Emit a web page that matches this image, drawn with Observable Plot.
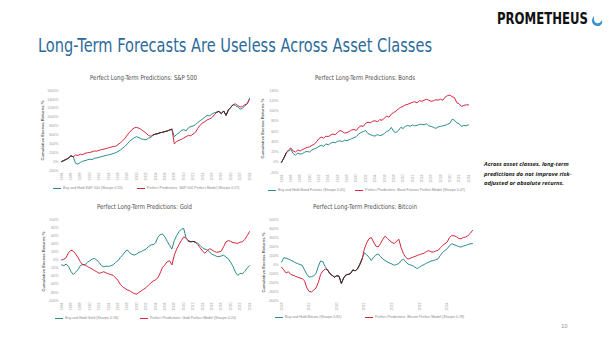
<!DOCTYPE html>
<html><head><meta charset="utf-8">
<script src="https://cdn.jsdelivr.net/npm/d3@7"></script>
<script src="https://cdn.jsdelivr.net/npm/@observablehq/plot@0.6"></script>
<style>
html,body{margin:0;padding:0;background:#fff}
body{width:612px;height:343px;position:relative;overflow:hidden;font-family:"DejaVu Sans",sans-serif}
.a{position:absolute;white-space:nowrap}
.ct{font-size:6.8px;color:#4d4d4d;line-height:8px;font-family:"DejaVu Sans",sans-serif}
.yt{font-size:4.2px;color:#666;font-weight:bold;text-align:center;width:80px;line-height:5px;transform:rotate(-90deg);font-family:"Liberation Sans",sans-serif}
.lg{font-size:3.6px;color:#888;line-height:5px;font-family:"Liberation Sans",sans-serif}
.sw{display:inline-block;width:8px;height:0;border-top:0.8px solid;vertical-align:middle;margin-right:2px}
</style></head><body>
<script>
// ---------- data ----------
const TEAL = "#2a8c8c", RED = "#d7263d", DARK = "#333333";

// S&P 500, half-year steps 1984.0 .. 2024.0
const spxRed = [0,25,50,80,130,110,150,140,165,160,
 185,200,205,220,240,235,255,270,280,295,
 310,325,340,345,380,420,470,520,600,660,
 720,760,770,750,720,680,640,590,570,600,
 620,630,650,660,675,690,710,730,400,450,
 480,500,530,560,590,580,620,660,750,820,
 870,900,940,960,990,1050,1110,1130,1080,1140,
 1040,1160,1220,1280,1300,1260,1230,1240,1280,1300,
 1400];
const spxTeal = [0,25,50,80,130,110,-40,-55,-20,10,
 20,40,55,45,75,80,100,110,125,140,
 150,165,180,200,225,260,300,340,400,460,
 500,540,560,540,510,500,490,530,540,600,
 620,630,650,660,675,690,710,730,560,610,
 650,700,720,690,760,790,800,830,880,920,
 960,1000,1040,1030,1070,1100,1110,1130,1080,1140,
 1040,1160,1220,1280,1260,1230,1180,1200,1250,1300,
 1420];
const spxYTicks = [-200,0,200,400,600,800,1000,1200,1400,1600];

// Bonds, half-year steps 1984.0 .. 2024.0
const bondRed = [0,8,18,24,28,22,20,24,22,25,
 27,29,30,33,35,40,46,49,47,51,
 50,53,55,54,58,62,60,57,58,60,
 63,64,62,68,71,70,76,78,77,80,
 81,79,83,82,86,90,88,94,97,100,
 104,107,109,112,113,115,117,118,116,120,
 119,121,123,121,119,120,122,121,123,121,
 127,130,131,128,126,116,114,109,111,112,
 112];
const bondTeal = [0,8,18,22,25,17,14,18,16,17,
 20,21,20,24,26,28,31,33,31,36,
 34,37,39,38,41,42,40,43,42,44,
 46,48,50,55,58,60,62,56,54,52,
 51,54,52,53,56,60,62,68,60,58,
 62,68,66,70,72,70,73,71,72,74,
 74,73,75,71,70,68,66,69,70,71,
 72,74,76,84,82,77,75,70,72,71,
 73];
const bondYTicks = [-20,0,20,40,60,80,100,120,140];

// Gold, half-year steps 1984.0 .. 2024.0
const goldRed = [0,2,6,18,24,22,15,6,-4,-12,
 -12,-16,-19,-22,-26,-29,-33,-31,-29,-32,
 -34,-36,-38,-44,-50,-60,-66,-70,-74,-76,
 -80,-83,-84,-80,-76,-72,-68,-62,-57,-52,
 -49,-44,-32,-18,-12,-4,-2,-12,12,27,
 38,48,57,54,47,45,46,44,38,30,
 22,17,22,28,25,21,19,20,22,33,
 45,48,46,43,42,41,44,45,51,60,
 70];
const goldTeal = [-12,-14,-10,-16,-28,-36,-30,-24,-14,-11,
 -12,-6,-2,2,4,0,-6,-14,-17,-15,
 -16,-14,-12,-6,-2,6,12,20,25,18,
 14,12,15,19,21,24,27,33,37,38,
 42,56,63,64,57,46,36,27,48,60,
 70,76,78,55,47,45,46,44,41,36,
 30,27,25,20,14,12,9,8,10,12,
 7,3,-6,-16,-30,-38,-33,-34,-28,-20,
 -14];
const goldYTicks = [-100,-80,-60,-40,-20,0,20,40,60,80,100];

// Bitcoin, monthly steps from 2018-01
const btcRed = [-30,-60,-95,-80,-110,-120,-130,-142,-150,-158,
 -180,-260,-300,-305,-285,-260,-200,-110,-70,-50,
 -60,-100,-120,-140,-125,-130,-210,-150,-115,-110,
 -100,-60,-70,-50,0,60,170,240,285,300,
 250,205,195,230,280,315,290,265,245,232,
 260,280,185,120,80,60,70,80,90,100,
 110,118,125,145,155,140,138,150,156,185,
 210,230,250,300,322,318,310,290,285,300,
 305,320,345,378];
const btcTeal = [26,75,70,60,48,35,20,10,0,-10,
 -60,-110,-140,-135,-125,-100,-20,40,30,-25,
 -60,-100,-120,-140,-125,-130,-210,-150,-115,-110,
 -100,-60,-70,-50,0,60,130,110,80,45,
 80,105,118,90,60,45,28,15,5,-8,
 0,10,45,60,30,5,-5,-12,-30,-45,
 -30,-12,0,15,26,38,44,52,63,100,
 135,155,175,210,230,220,211,200,193,205,
 211,222,230,232];
const btcYTicks = [-400,-300,-200,-100,0,100,200,300,400,500];

const longYears = [1984,1986,1988,1990,1992,1994,1996,1998,2000,2002,2004,2006,2008,2010,2012,2014,2016,2018,2020,2022,2024];
const btcYears = [2018,2019,2020,2021,2022,2023,2024];

const chartTitles = ["Perfect Long-Term Predictions: S&P 500","Perfect Long-Term Predictions: Bonds","Perfect Long-Term Predictions: Gold","Perfect Long-Term Predictions: Bitcoin"];
const legendA = ["Buy and Hold S&P 500 (Sharpe 0.55)","Buy and Hold Bond Futures (Sharpe 0.41)","Buy and Hold Gold (Sharpe 0.18)","Buy and Hold Bitcoin (Sharpe 0.81)"];
const legendB = ["Perfect Predictions: S&P 500 Perfect Model (Sharpe 0.57)","Perfect Predictions: Bond Futures Perfect Model (Sharpe 0.47)","Perfect Predictions: Gold Perfect Model (Sharpe 0.24)","Perfect Predictions: Bitcoin Perfect Model (Sharpe 0.78)"];
const yTitle = "Cumulative Excess Returns %";
const mainTitle = "Long-Term Forecasts Are Useless Across Asset Classes";
const sideNote = ["Across asset classes, long-term","predictions do not improve risk-","adjusted or absolute returns."];

// ---------- build ----------
function rowsOf(red, teal, start, step){
  const n = red.length;
  const eq = i => i>=0 && i<n && red[i]===teal[i];
  return red.map((r,i)=>({x:start+i*step, r, t:teal[i], o:(eq(i)&&(eq(i-1)||eq(i+1)))?r:NaN}));
}
function chart(cfg){
  const rows = rowsOf(cfg.red, cfg.teal, cfg.start, cfg.step);
  const svg = Plot.plot({
    width: cfg.w, height: cfg.h,
    marginLeft: cfg.ml, marginRight: cfg.mr, marginTop: cfg.mt, marginBottom: cfg.mb,
    style:{background:"transparent", fontFamily:"Liberation Sans, sans-serif", fontSize:"3.6px", color:"#9a9a9a", overflow:"visible"},
    x:{domain:cfg.xd, ticks:cfg.xt, tickFormat:d=>String(d), tickRotate:-90, tickSize:0, tickPadding:2, label:null},
    y:{domain:cfg.yd, ticks:cfg.yt, tickFormat:d=>d+"%", tickSize:0, tickPadding:3, label:null},
    marks:[
      Plot.line(rows,{x:"x", y:"t", stroke:TEAL, strokeWidth:1}),
      Plot.line(rows,{x:"x", y:"r", stroke:RED, strokeWidth:1}),
      Plot.line(rows,{x:"x", y:"o", stroke:DARK, strokeWidth:1})
    ]
  });
  svg.style.position="absolute"; svg.style.left=cfg.left+"px"; svg.style.top=cfg.top+"px";
  document.body.appendChild(svg);
}
function el(cls, html, css){
  const d=document.createElement("div"); d.className="a "+cls; d.innerHTML=html;
  Object.assign(d.style, css); document.body.appendChild(d); return d;
}
// squeeze a text box horizontally to a target width, anchored at x0
function fit(d, x0, target){
  d.style.display="inline-block";
  const w = d.getBoundingClientRect().width;
  d.style.left = x0+"px";
  d.style.transformOrigin = "0 0";
  d.style.transform = `scaleX(${target/w})`;
}
const esc = s => s.replace(/&/g,"&amp;");

chart({red:spxRed, teal:spxTeal, start:1984, step:0.5, xd:[1984,2024], xt:longYears, yd:[-200,1600], yt:spxYTicks,
  left:40, top:84, w:230, h:100, ml:21, mr:21, mt:6, mb:14});
chart({red:bondRed, teal:bondTeal, start:1984, step:0.5, xd:[1984,2024], xt:longYears, yd:[-20,140], yt:bondYTicks,
  left:250, top:84, w:230, h:100, ml:31, mr:12, mt:6, mb:12});
chart({red:goldRed, teal:goldTeal, start:1984, step:0.5, xd:[1984,2024], xt:longYears, yd:[-100,100], yt:goldYTicks,
  left:40, top:213, w:230, h:100, ml:21, mr:21, mt:6, mb:13});
chart({red:btcRed, teal:btcTeal, start:2018, step:1/12, xd:[2018,2018+83/12], xt:btcYears, yd:[-400,500], yt:btcYTicks,
  left:250, top:213, w:230, h:100, ml:31, mr:8, mt:6, mb:13});

// chart titles: [left edge, top, width]
[[90,74,107],[315,74,100],[97,203,95],[313,203,104]].forEach(([x0,y0,w],i)=>{
  const d = el("ct", esc(chartTitles[i]), {top:y0+"px"}); fit(d, x0, w);
});
// y titles (one per chart, on the left)
[[42,130],[262,128],[43,261],[263,262]].forEach(([cx,cy])=>el("yt", yTitle, {left:(cx-40)+"px", top:(cy-2.5)+"px"}));
// legends
const lgPos = [[53,137,186],[268,355,188],[55,140,316],[275,365,315]];
lgPos.forEach(([x1,x2,y],i)=>{
  el("lg", `<span class="sw" style="border-color:${TEAL}"></span>`+esc(legendA[i]), {left:x1+"px", top:y+"px"});
  el("lg", `<span class="sw" style="border-color:${RED}"></span>`+esc(legendB[i]), {left:x2+"px", top:y+"px"});
});
// main title & logo & notes
const t = el("", mainTitle, {top:"33px", fontSize:"19px", lineHeight:"24px", color:"#2d6b9b", fontWeight:"500", fontFamily:"'DejaVu Sans',sans-serif"});
fit(t, 38, 394);
const lg = el("", "PROMETHEUS", {top:"9px", fontSize:"16px", lineHeight:"20px", color:"#111", fontWeight:"bold", fontFamily:"'DejaVu Sans',sans-serif"});
fit(lg, 497, 91);
el("", `<svg width="14" height="14" viewBox="0 0 14 14"><path d="M4 2 C1 5 1 11 7 12 C11 12.5 13 9 12 6 C11 9 7 10.5 5 8 C3.5 6 4 4 4 2 Z" fill="#3a8fd0"/></svg>`, {left:"590px", top:"13px"});
el("", sideNote.join("<br>"), {left:"484px", top:"160px", fontSize:"5.8px", lineHeight:"9.5px", color:"#222", fontWeight:"bold", fontStyle:"italic", fontFamily:"'Open Sans',sans-serif"});
el("", "10", {left:"561px", top:"323px", fontSize:"6px", color:"#999", fontFamily:"'Liberation Sans',sans-serif"});
</script>
</body></html>
